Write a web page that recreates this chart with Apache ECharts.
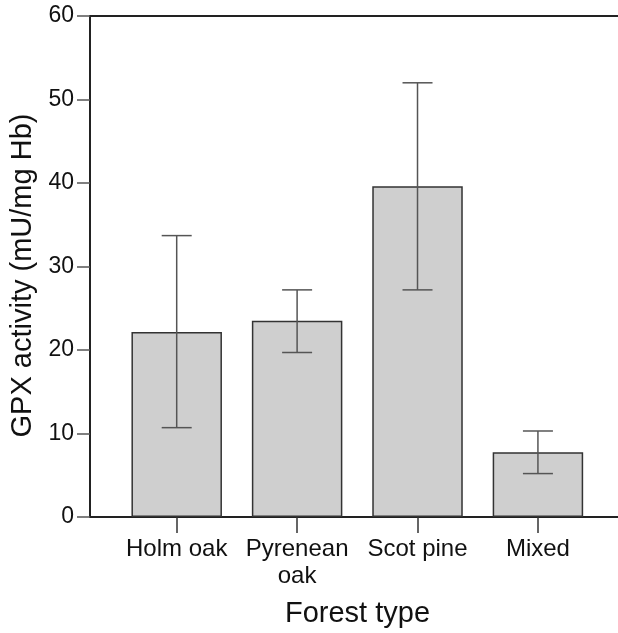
<!DOCTYPE html>
<html>
<head>
<meta charset="utf-8">
<script src="https://cdn.jsdelivr.net/npm/echarts@6/dist/echarts.min.js"></script>
<style>
html,body{margin:0;padding:0;background:#fff;}
#chart{width:618px;height:633px;}
</style>
</head>
<body>
<div id="chart"></div>
<script>
// Data
var categories = ['Holm oak', 'Pyrenean\noak', 'Scot pine', 'Mixed'];
var means = [22.15, 23.5, 39.6, 7.75];
var errUpper = [33.7, 27.2, 52.0, 10.3];
var errLower = [10.7, 19.7, 27.2, 5.2];
var yTicks = [0, 10, 20, 30, 40, 50, 60];

var FONT = '"Liberation Sans", Arial, Helvetica, sans-serif';
var catPos = categories.map(function (c, i) { return i; });

var chart = echarts.init(document.getElementById('chart'), null, {renderer: 'canvas'});

var option = {
  animation: false,
  backgroundColor: '#ffffff',
  grid: {left: 90, right: 0, top: 16, bottom: 114, containLabel: false},
  xAxis: [{
    type: 'value',
    min: -0.72,
    max: 3.665,
    position: 'bottom',
    name: 'Forest type',
    nameLocation: 'middle',
    nameGap: 82,
    nameTextStyle: {fontFamily: FONT, fontSize: 29, color: '#111', padding: [0, 0, 0, 7]},
    axisLine: {show: true, onZero: false, lineStyle: {color: '#222', width: 2}},
    axisTick: {show: true, customValues: catPos, length: 16, inside: false, lineStyle: {color: '#333', width: 1.5}},
    axisLabel: {
      show: true,
      customValues: catPos,
      margin: 19,
      fontFamily: FONT,
      fontSize: 24,
      lineHeight: 27,
      color: '#111',
      formatter: function (v) { return categories[Math.round(v)]; }
    },
    splitLine: {show: false}
  }, {
    type: 'value',
    min: -0.72,
    max: 3.665,
    position: 'top',
    axisLine: {show: true, onZero: false, lineStyle: {color: '#222', width: 2}},
    axisTick: {show: false},
    axisLabel: {show: false},
    splitLine: {show: false}
  }],
  yAxis: {
    type: 'value',
    min: 0,
    max: 60,
    interval: 10,
    name: 'GPX activity (mU/mg Hb)',
    nameLocation: 'middle',
    nameGap: 52,
    nameTextStyle: {fontFamily: FONT, fontSize: 29, color: '#111', padding: [0, 18, 0, 0]},
    axisLine: {show: true, onZero: false, lineStyle: {color: '#222', width: 2}},
    axisTick: {show: true, length: 13, inside: false, lineStyle: {color: '#555', width: 1.5}},
    axisLabel: {
      margin: 16,
      fontFamily: FONT,
      fontSize: 23,
      color: '#111',
      formatter: function (v) { return yTicks.indexOf(v) >= 0 ? String(v) : ''; }
    },
    splitLine: {show: false}
  },
  series: [{
    type: 'bar',
    xAxisIndex: 0,
    barWidth: 90.5,
    data: means.map(function (m, i) { return [i, m]; }),
    itemStyle: {color: '#cfcfcf', borderColor: '#333', borderWidth: 1.5},
    z: 2
  }, {
    type: 'custom',
    xAxisIndex: 0,
    data: means.map(function (m, i) { return [i, errLower[i], errUpper[i]]; }),
    renderItem: function (params, api) {
      var x = api.value(0);
      var lo = api.coord([x, api.value(1)]);
      var hi = api.coord([x, api.value(2)]);
      var hw = 15;
      var style = {stroke: '#555', lineWidth: 1.5};
      return {
        type: 'group',
        children: [
          {type: 'line', shape: {x1: lo[0], y1: lo[1], x2: hi[0], y2: hi[1]}, style: style},
          {type: 'line', shape: {x1: hi[0] - hw, y1: hi[1], x2: hi[0] + hw, y2: hi[1]}, style: style},
          {type: 'line', shape: {x1: lo[0] - hw, y1: lo[1], x2: lo[0] + hw, y2: lo[1]}, style: style}
        ]
      };
    },
    z: 3
  }]
};

chart.setOption(option);
</script>
</body>
</html>
